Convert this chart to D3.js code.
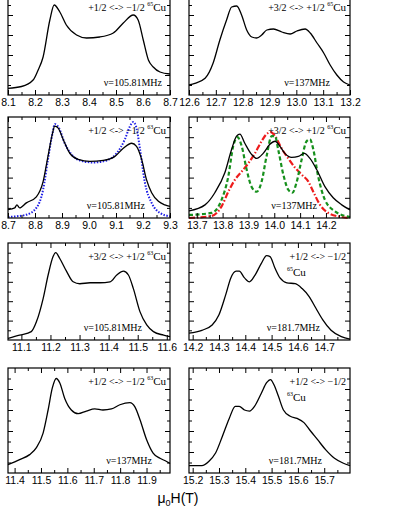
<!DOCTYPE html>
<html>
<head>
<meta charset="utf-8">
<script src="https://cdn.jsdelivr.net/npm/d3@7"></script>
<style>
    html, body { margin: 0; padding: 0; background: #fff; }
    svg { display: block; }
</style>
</head>
<body>
<div id="dis"></div>
<script>
// field axis ranges (T) for each panel
var fieldRanges = [
    [8.1, 8.7], [12.6, 13.2],
    [8.7, 9.3], [13.67, 14.293],
    [11.054, 11.611], [14.186, 14.798],
    [11.375, 11.989], [15.186, 15.798]
];

var transitions = [
    "+1/2 <-> \u22121/2", "+3/2 <-> +1/2",
    "+1/2 <-> \u22121/2", "+3/2 <-> +1/2",
    "+3/2 <-> +1/2", "+1/2 <-> \u22121/2",
    "+1/2 <-> \u22121/2", "+1/2 <-> \u22121/2"
];
var isotopes = ["65", "65", "63", "63", "63", "65", "63", "63"];
var freqs = [
    "\u03bd=105.81MHz", "\u03bd=137MHz",
    "\u03bd=105.81MHz", "\u03bd=137MHz",
    "\u03bd=105.81MHz", "\u03bd=181.7MHz",
    "\u03bd=137MHz", "\u03bd=181.7MHz"
];

// measured spectra (normalised intensity)
var p1Field = [8.1, 8.15, 8.193, 8.21, 8.23, 8.255, 8.271, 8.292, 8.316, 8.354, 8.391, 8.44, 8.49, 8.527, 8.564, 8.582, 8.601, 8.62, 8.638, 8.663, 8.7];
var p1Signal = [0.067, 0.085, 0.15, 0.24, 0.38, 0.75, 0.90, 0.83, 0.70, 0.60, 0.57, 0.58, 0.62, 0.72, 0.80, 0.75, 0.55, 0.35, 0.28, 0.23, 0.21];

var p2Field = [12.6, 12.622, 12.66, 12.69, 12.715, 12.74, 12.759, 12.778, 12.796, 12.815, 12.834, 12.852, 12.871, 12.89, 12.915, 12.946, 12.977, 13.002, 13.033, 13.052, 13.077, 13.102, 13.126, 13.151, 13.176, 13.2];
var p2Signal = [0.10, 0.117, 0.167, 0.32, 0.55, 0.75, 0.88, 0.89, 0.80, 0.65, 0.58, 0.57, 0.60, 0.65, 0.66, 0.63, 0.61, 0.64, 0.66, 0.62, 0.52, 0.42, 0.30, 0.20, 0.13, 0.10];

var p3Field = [8.7, 8.725, 8.733, 8.743, 8.768, 8.805, 8.83, 8.848, 8.865, 8.873, 8.886, 8.904, 8.929, 8.96, 9.003, 9.053, 9.096, 9.127, 9.158, 9.176, 9.195, 9.213, 9.232, 9.257, 9.281, 9.3];
var p3Signal = [0.083, 0.10, 0.13, 0.10, 0.15, 0.21, 0.36, 0.61, 0.84, 0.91, 0.89, 0.78, 0.64, 0.58, 0.56, 0.57, 0.61, 0.69, 0.74, 0.71, 0.58, 0.38, 0.25, 0.165, 0.13, 0.115];
var p3SimField = [8.7, 8.768, 8.805, 8.83, 8.848, 8.865, 8.873, 8.889, 8.91, 8.935, 8.966, 9.016, 9.065, 9.102, 9.133, 9.152, 9.164, 9.176, 9.189, 9.207, 9.232, 9.263, 9.3];
var p3SimSignal = [0.01, 0.033, 0.10, 0.28, 0.58, 0.84, 0.93, 0.89, 0.74, 0.63, 0.57, 0.55, 0.57, 0.64, 0.78, 0.91, 0.95, 0.89, 0.68, 0.35, 0.15, 0.05, 0.017];

var p4Field = [13.67, 13.732, 13.77, 13.809, 13.835, 13.854, 13.867, 13.886, 13.912, 13.932, 13.957, 13.983, 14.003, 14.022, 14.041, 14.067, 14.093, 14.116, 14.138, 14.164, 14.196, 14.228, 14.261, 14.293];
var p4Signal = [0.07, 0.13, 0.25, 0.45, 0.68, 0.81, 0.83, 0.74, 0.63, 0.59, 0.64, 0.73, 0.76, 0.71, 0.64, 0.60, 0.61, 0.64, 0.59, 0.48, 0.31, 0.20, 0.13, 0.08];
var p4GreenField = [13.67, 13.757, 13.796, 13.822, 13.841, 13.858, 13.874, 13.893, 13.912, 13.932, 13.951, 13.97, 13.99, 14.003, 14.015, 14.035, 14.054, 14.07, 14.086, 14.106, 14.125, 14.138, 14.151, 14.17, 14.196, 14.235, 14.293];
var p4GreenSignal = [0.03, 0.05, 0.18, 0.41, 0.71, 0.80, 0.71, 0.48, 0.31, 0.26, 0.36, 0.61, 0.81, 0.81, 0.68, 0.43, 0.28, 0.25, 0.35, 0.58, 0.76, 0.78, 0.68, 0.41, 0.18, 0.066, 0.01];
var p4RedField = [13.67, 13.757, 13.796, 13.822, 13.848, 13.874, 13.899, 13.925, 13.951, 13.97, 13.987, 14.003, 14.028, 14.054, 14.08, 14.106, 14.132, 14.151, 14.177, 14.209, 14.261, 14.293];
var p4RedSignal = [0.0, 0.02, 0.115, 0.26, 0.38, 0.46, 0.54, 0.64, 0.76, 0.83, 0.85, 0.81, 0.69, 0.59, 0.50, 0.43, 0.36, 0.26, 0.13, 0.05, 0.01, 0.0];

var p5Field = [11.054, 11.094, 11.134, 11.152, 11.175, 11.192, 11.209, 11.218, 11.232, 11.255, 11.278, 11.301, 11.336, 11.37, 11.405, 11.428, 11.451, 11.468, 11.485, 11.508, 11.531, 11.554, 11.589, 11.611];
var p5Signal = [0.017, 0.05, 0.086, 0.19, 0.43, 0.67, 0.86, 0.90, 0.84, 0.71, 0.60, 0.58, 0.59, 0.59, 0.60, 0.67, 0.71, 0.67, 0.53, 0.29, 0.155, 0.086, 0.05, 0.034];

var p6Field = [14.186, 14.235, 14.274, 14.3, 14.326, 14.345, 14.365, 14.377, 14.397, 14.416, 14.435, 14.461, 14.481, 14.494, 14.513, 14.532, 14.558, 14.59, 14.616, 14.642, 14.668, 14.694, 14.726, 14.765, 14.798];
var p6Signal = [0.07, 0.10, 0.155, 0.26, 0.47, 0.64, 0.71, 0.71, 0.64, 0.60, 0.66, 0.79, 0.87, 0.86, 0.74, 0.64, 0.59, 0.58, 0.53, 0.45, 0.33, 0.21, 0.10, 0.034, 0.01];

var p7Field = [11.375, 11.419, 11.457, 11.482, 11.508, 11.527, 11.543, 11.558, 11.571, 11.59, 11.615, 11.641, 11.672, 11.704, 11.735, 11.767, 11.799, 11.837, 11.856, 11.875, 11.9, 11.925, 11.951, 11.976, 11.989];
var p7Signal = [0.08, 0.127, 0.175, 0.24, 0.38, 0.60, 0.81, 0.90, 0.86, 0.71, 0.60, 0.565, 0.59, 0.61, 0.60, 0.61, 0.65, 0.67, 0.63, 0.51, 0.32, 0.19, 0.14, 0.11, 0.09];

var p8Field = [15.186, 15.235, 15.261, 15.287, 15.313, 15.339, 15.362, 15.377, 15.397, 15.416, 15.435, 15.461, 15.481, 15.496, 15.509, 15.526, 15.545, 15.571, 15.597, 15.623, 15.648, 15.674, 15.706, 15.739, 15.771, 15.798];
var p8Signal = [0.07, 0.07, 0.11, 0.19, 0.35, 0.52, 0.635, 0.635, 0.60, 0.59, 0.635, 0.76, 0.86, 0.89, 0.84, 0.73, 0.60, 0.54, 0.52, 0.48, 0.40, 0.32, 0.22, 0.14, 0.095, 0.07];

var zip = function(xs, ys) {
    return xs.map(function(x, i) { return {x: x, y: ys[i]}; });
};

var series = [
    [{pts: zip(p1Field, p1Signal), s: "solid"}],
    [{pts: zip(p2Field, p2Signal), s: "solid"}],
    [{pts: zip(p3SimField, p3SimSignal), s: "blue"}, {pts: zip(p3Field, p3Signal), s: "solid"}],
    [{pts: zip(p4RedField, p4RedSignal), s: "red"}, {pts: zip(p4GreenField, p4GreenSignal), s: "green"}, {pts: zip(p4Field, p4Signal), s: "solid"}],
    [{pts: zip(p5Field, p5Signal), s: "solid"}],
    [{pts: zip(p6Field, p6Signal), s: "solid"}],
    [{pts: zip(p7Field, p7Signal), s: "solid"}],
    [{pts: zip(p8Field, p8Signal), s: "solid"}]
];

var styles = {
    solid: {stroke: "#000", width: 1.3, dash: null},
    blue: {stroke: "#1f1fe6", width: 2, dash: "1.5,1.5"},
    green: {stroke: "#16901c", width: 2.2, dash: "4,2.5"},
    red: {stroke: "#ee1c1c", width: 2.2, dash: "6,2,1.5,2"}
};

// layout
var colX = [[8, 170], [189, 350]];
var rowY = [[-5, 95], [117, 218], [243, 340], [368, 473]];

var draw = function() {
    var svg = d3.select("#dis").append("svg")
        .attr("width", 395)
        .attr("height", 511);

    fieldRanges.forEach(function(dom, i) {
        var cx = colX[i % 2];
        var ry = rowY[Math.floor(i / 2)];
        var x = d3.scaleLinear().domain(dom).range(cx);
        var y = d3.scaleLinear().domain([0, 1]).range([ry[1], ry[0]]);
        var g = svg.append("g");

        // curves
        var line = d3.line()
            .x(d => x(d.x))
            .y(d => y(d.y))
            .curve(d3.curveMonotoneX);
        series[i].forEach(function(sr) {
            var st = styles[sr.s];
            g.append("path")
                .attr("d", line(sr.pts))
                .attr("fill", "none")
                .attr("stroke", st.stroke)
                .attr("stroke-width", st.width)
                .attr("stroke-dasharray", st.dash)
                .attr("stroke-linejoin", "round");
        });

        // ticks
        var lo = Math.ceil(dom[0] * 10 - 1e-6), hi = Math.floor(dom[1] * 10 + 1e-6);
        var major = d3.range(lo, hi + 1).map(v => v / 10);
        var minor = d3.range(Math.ceil(dom[0] * 20 - 1e-6), Math.floor(dom[1] * 20 + 1e-6) + 1)
            .map(v => v / 20).filter(v => Math.abs(v * 10 - Math.round(v * 10)) > 1e-6);

        var bottom = g.append("g")
            .attr("transform", "translate(0," + ry[1] + ")")
            .call(d3.axisBottom(x).tickValues(major).tickSize(-5).tickPadding(4).tickFormat(d3.format(".1f")));
        bottom.selectAll("text")
            .attr("font-family", "Liberation Sans, Arial, sans-serif")
            .attr("font-size", 10.5)
            .attr("fill", "#000");
        g.append("g")
            .attr("transform", "translate(0," + ry[1] + ")")
            .call(d3.axisBottom(x).tickValues(minor).tickSize(-3).tickFormat(""));
        g.append("g")
            .attr("transform", "translate(0," + ry[0] + ")")
            .call(d3.axisTop(x).tickValues(major).tickSize(-5).tickFormat(""));
        g.append("g")
            .attr("transform", "translate(0," + ry[0] + ")")
            .call(d3.axisTop(x).tickValues(minor).tickSize(-3).tickFormat(""));

        var yMajor = [0.2, 0.4, 0.6, 0.8];
        var yMinor = [0.1, 0.3, 0.5, 0.7, 0.9];
        g.append("g")
            .attr("transform", "translate(" + cx[0] + ",0)")
            .call(d3.axisLeft(y).tickValues(yMajor).tickSize(-5).tickFormat(""));
        g.append("g")
            .attr("transform", "translate(" + cx[0] + ",0)")
            .call(d3.axisLeft(y).tickValues(yMinor).tickSize(-3).tickFormat(""));
        g.append("g")
            .attr("transform", "translate(" + cx[1] + ",0)")
            .call(d3.axisRight(y).tickValues(yMajor).tickSize(-5).tickFormat(""));
        g.append("g")
            .attr("transform", "translate(" + cx[1] + ",0)")
            .call(d3.axisRight(y).tickValues(yMinor).tickSize(-3).tickFormat(""));
        g.selectAll(".domain").remove();
        g.selectAll(".tick line").attr("stroke", "#000").attr("stroke-width", 1);

        g.append("rect")
            .attr("x", cx[0])
            .attr("y", ry[0])
            .attr("width", cx[1] - cx[0])
            .attr("height", ry[1] - ry[0])
            .attr("fill", "none")
            .attr("stroke", "#000")
            .attr("stroke-width", 1.2);

        // labels
        var serif = "Liberation Serif, Times New Roman, serif";
        var split = (i === 5 || i === 7);
        var t = g.append("text")
            .attr("font-family", serif)
            .attr("font-size", 10)
            .attr("fill", "#000")
            .attr("text-anchor", "end")
            .attr("x", cx[1] - 4)
            .attr("y", ry[0] + (i < 2 ? 16 : 17));
        t.append("tspan").text(transitions[i] + (split ? "" : " "));
        if (split) {
            var t2 = g.append("text")
                .attr("font-family", serif)
                .attr("font-size", 10)
                .attr("fill", "#000")
                .attr("x", cx[0] + 98)
                .attr("y", ry[0] + 33);
            t2.append("tspan").attr("font-size", 6).attr("dy", -5).text(isotopes[i]);
            t2.append("tspan").attr("font-size", 11).attr("dy", 5).text("Cu");
        } else {
            t.append("tspan").attr("font-size", 6).attr("dy", -5).text(isotopes[i]);
            t.append("tspan").attr("font-size", 11).attr("dy", 5).text("Cu");
        }

        var fx = [162, 330, 145, 317, 142, 320, 152, 322][i];
        g.append("text")
            .attr("font-family", serif)
            .attr("font-size", 10)
            .attr("fill", "#000")
            .attr("text-anchor", "end")
            .attr("x", fx)
            .attr("y", ry[1] - 9)
            .text(freqs[i]);
    });

    var title = svg.append("text")
        .attr("font-family", "Liberation Sans, Arial, sans-serif")
        .attr("font-size", 14)
        .attr("fill", "#000")
        .attr("text-anchor", "middle")
        .attr("x", 178)
        .attr("y", 503);
    title.append("tspan").text("\u03bc");
    title.append("tspan").attr("font-size", 9).attr("dy", 3).text("0");
    title.append("tspan").attr("dy", -3).text("H(T)");
};

window.onload = function() {
    draw();
};
</script>
</body>
</html>
